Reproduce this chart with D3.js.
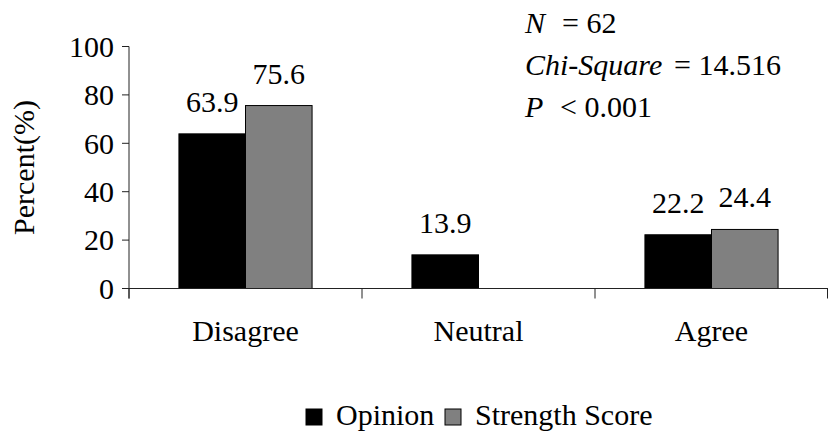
<!DOCTYPE html>
<html>
<head>
<meta charset="utf-8">
<script src="https://cdn.jsdelivr.net/npm/d3@7"></script>
<style>
svg text { font-family: "Liberation Serif" !important; }
</style>
</head>
<body style="margin:0">
<svg id="chart" width="828" height="434"></svg>
<script>
const categories = ["Disagree", "Neutral", "Agree"];
const seriesNames = ["Opinion", "Strength Score"];
const opinion = [63.9, 13.9, 22.2];
const strength = [75.6, null, 24.4];
const yTicks = [0, 20, 40, 60, 80, 100];
const colors = ["#000000", "#808080"];
const statsLines = [
  { label: "N", op: "=", value: "62" },
  { label: "Chi-Square", op: "=", value: "14.516" },
  { label: "P", op: "<", value: "0.001" }
];

const fs = 30;
const svg = d3.select("#chart");
const margin = { left: 129, right: 828, top: 46.5, bottom: 288.5 };

const x0 = d3.scaleBand().domain(categories).range([margin.left, margin.right]).paddingInner(0).paddingOuter(0);
const y = d3.scaleLinear().domain([0, 100]).range([margin.bottom, margin.top]);
const bw = x0.bandwidth() / 3.5;

function txt(sel, italic) {
  return sel.attr("style", `font-family: 'Liberation Serif' !important; font-size: ${fs}px;` + (italic ? " font-style: italic;" : ""));
}

const rows = categories.map((c, i) => ({ cat: c, values: [opinion[i], strength[i]] }));

// bars
const g = svg.append("g");
rows.forEach(r => {
  const cx = x0(r.cat) + x0.bandwidth() / 2;
  r.values.forEach((v, j) => {
    if (v == null) return;
    const xs = cx - bw + j * bw;
    g.append("rect")
      .attr("x", xs).attr("y", y(v))
      .attr("width", bw).attr("height", y(0) - y(v))
      .attr("fill", colors[j])
      .attr("stroke", "#000").attr("stroke-width", 1);
    txt(g.append("text"))
      .attr("x", xs + bw / 2).attr("y", y(v) - 22)
      .attr("text-anchor", "middle")
      .text(v.toFixed(1));
  });
});

// y axis (drawn from the scale)
const ya = svg.append("g");
ya.append("line").attr("x1", margin.left).attr("x2", margin.left)
  .attr("y1", y(100)).attr("y2", y(0) + 10).attr("stroke", "#222");
ya.selectAll("line.yt").data(yTicks).enter().append("line").attr("class", "yt")
  .attr("x1", margin.left - 7).attr("x2", margin.left)
  .attr("y1", d => y(d)).attr("y2", d => y(d)).attr("stroke", "#222");
txt(ya.selectAll("text.yl").data(yTicks).enter().append("text").attr("class", "yl"))
  .attr("x", margin.left - 15).attr("y", d => y(d)).attr("dy", "0.34em")
  .attr("text-anchor", "end").text(d => d);

// x axis
const xa = svg.append("g").attr("transform", `translate(0,${y(0)})`);
xa.append("line").attr("x1", margin.left).attr("x2", margin.right).attr("y1", 0).attr("y2", 0).attr("stroke", "#222");
const bounds = categories.map(c => x0(c)).concat([margin.right - 0.5]);
xa.selectAll("line.tk").data(bounds).enter().append("line")
  .attr("class", "tk")
  .attr("x1", d => d).attr("x2", d => d).attr("y1", 0).attr("y2", 10)
  .attr("stroke", "#222");
txt(xa.selectAll("text.cat").data(categories).enter().append("text").attr("class", "cat"))
  .attr("x", d => x0(d) + x0.bandwidth() / 2)
  .attr("y", 52)
  .attr("text-anchor", "middle")
  .text(d => d);

// y axis title
txt(svg.append("text"))
  .attr("transform", `translate(34,${(y(0) + y(100)) / 2}) rotate(-90)`)
  .attr("text-anchor", "middle")
  .text("Percent(%)");

// stats annotation
const statY = [33, 75, 117];
const opX = [562, 674, 560];
statsLines.forEach((s, i) => {
  txt(svg.append("text"), true).attr("x", 525).attr("y", statY[i]).text(s.label);
  txt(svg.append("text")).attr("x", opX[i]).attr("y", statY[i]).text(s.op + " " + s.value);
});

// legend
const legend = svg.append("g");
const legX = [306, 445];
seriesNames.forEach((n, i) => {
  legend.append("rect").attr("x", legX[i]).attr("y", 409).attr("width", 16).attr("height", 16)
    .attr("fill", colors[i]).attr("stroke", "#000").attr("stroke-width", 1);
  txt(legend.append("text")).attr("x", legX[i] + 30).attr("y", 425).text(n);
});
</script>
</body>
</html>
